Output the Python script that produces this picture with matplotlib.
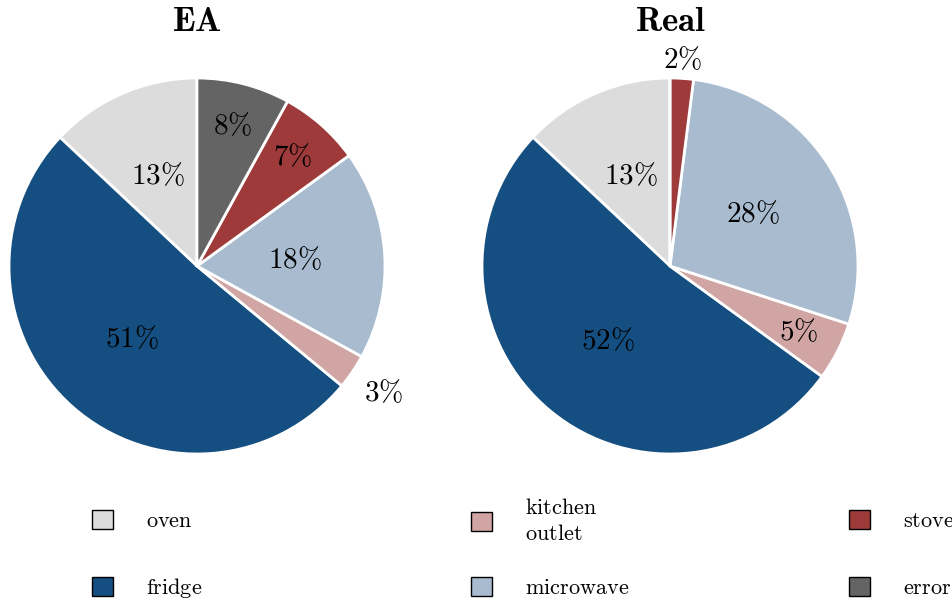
import numpy as np
import matplotlib
matplotlib.use("Agg")
import matplotlib.pyplot as plt

plt.rcParams['mathtext.fontset'] = 'cm'
plt.rcParams['font.family'] = 'DejaVu Serif'

# appliance shares (%) per method
labels = ['oven', 'fridge', 'kitchen\noutlet', 'microwave', 'stove', 'error']
ea_share = [13, 51, 3, 18, 7, 8]
real_share = [13, 52, 5, 28, 2, 0]
titles = ['EA', 'Real']
colors = ['#dcdcdc', '#154e80', '#d0a5a4', '#a8bbcf', '#9e3a3a', '#646464']

W, H = 953, 601
fig = plt.figure(figsize=(W / 100, H / 100), dpi=100)

R = 188
centers = [(197, 266), (670, 266)]


def label_dist(p):
    # small slices get their labels pushed outwards
    if p <= 2:
        return 1.1
    if p < 4:
        return 1.2
    if p < 10:
        return 0.77
    return 0.52


wedges = None
for (cx, cy), title, share in zip(centers, titles, [ea_share, real_share]):
    ax = fig.add_axes([(cx - R) / W, (H - cy - R) / H, 2 * R / W, 2 * R / H])
    w, _ = ax.pie(share, colors=colors, startangle=90, counterclock=True,
                  radius=1, wedgeprops=dict(edgecolor='white', linewidth=2))
    total = sum(share)
    # percentage labels
    ang = 90.0
    for p in share:
        th = np.deg2rad(ang + p / total * 180)
        ang += p / total * 360
        if p == 0:
            continue
        d = label_dist(p)
        ax.text(d * np.cos(th), d * np.sin(th), r'$%d\%%$' % p,
                ha='center', va='center', fontsize=21)
    ax.set_xlim(-1, 1)
    ax.set_ylim(-1, 1)
    ax.set_title(r'$\mathbf{%s}$' % title, fontsize=25, pad=34)
    if wedges is None:
        wedges = w

# legend: one entry per slot so rows line up across columns
col_x = [92, 471, 849]
row_y = [521, 588]
for i, lab in enumerate(labels):
    col, row = divmod(i, 2)
    txt = '\n'.join(r'$\mathrm{%s}$' % s for s in lab.split('\n'))
    h = plt.Rectangle((0, 0), 1, 1, facecolor=colors[i], edgecolor='black', linewidth=1)
    fig.legend([h], [txt], loc='center left',
               bbox_to_anchor=(col_x[col] / W, 1 - row_y[row] / H),
               frameon=False, fontsize=16, handlelength=0.95, handleheight=0.95,
               handletextpad=1.5, borderpad=0, borderaxespad=0)

fig.savefig('out.png', dpi=100)
